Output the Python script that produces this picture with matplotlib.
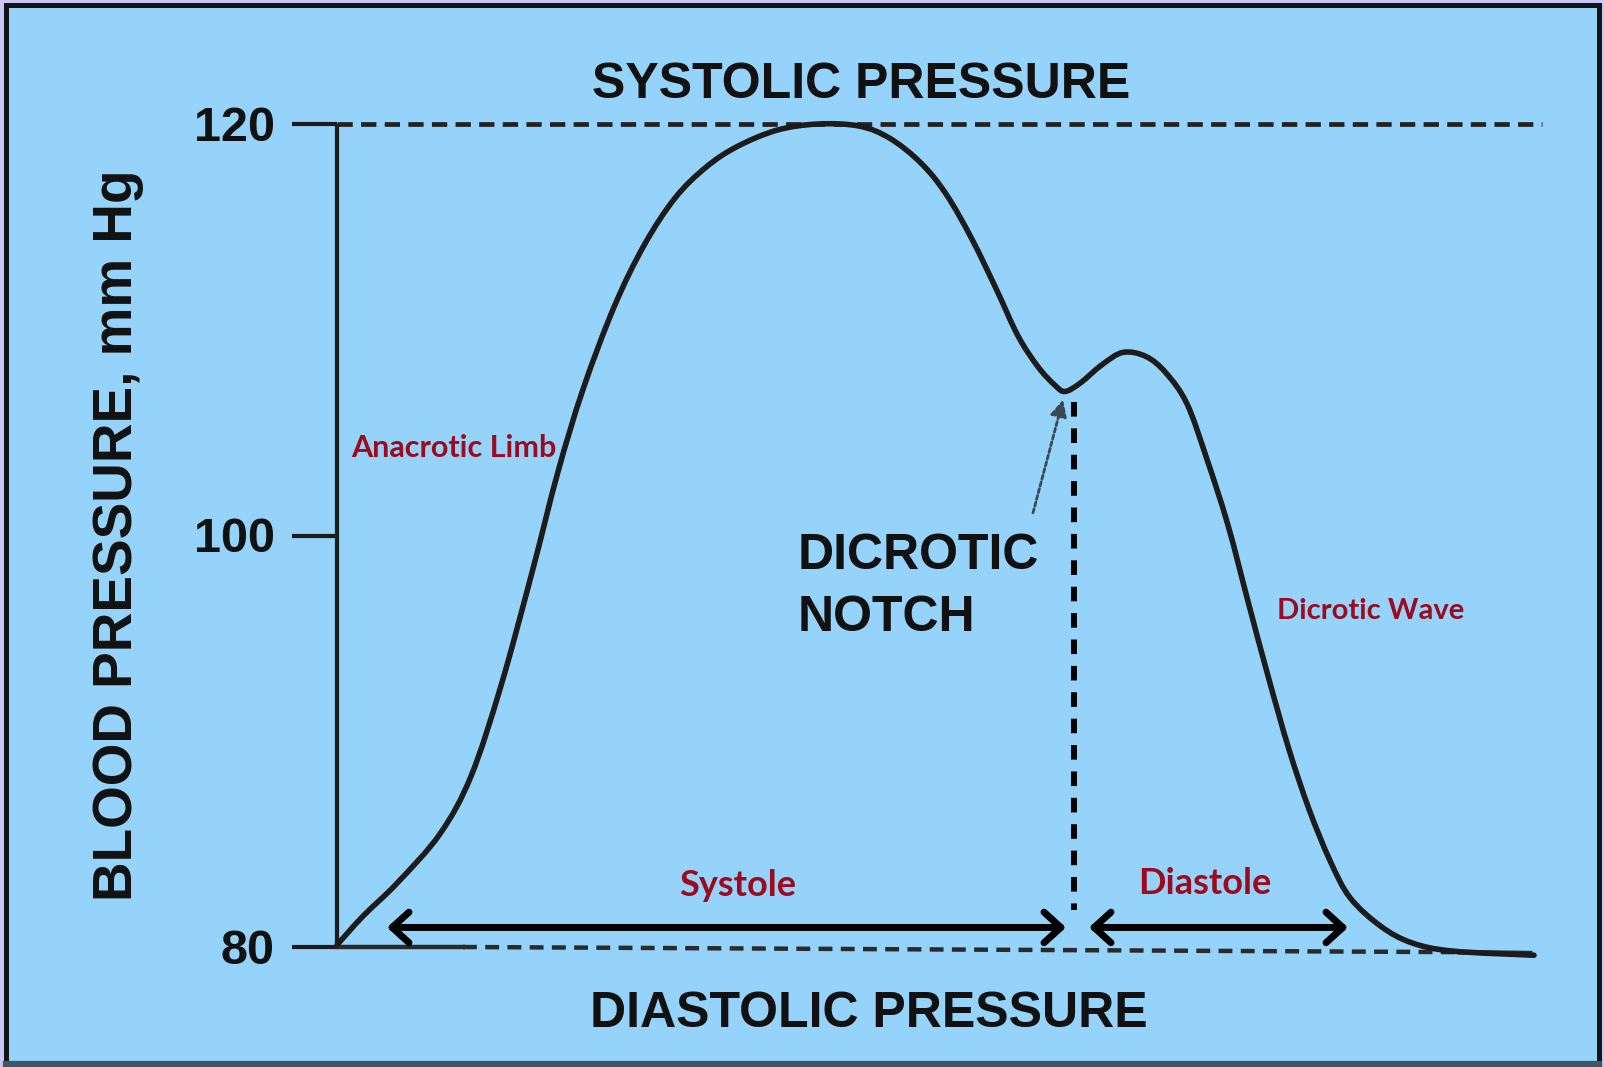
import numpy as np
import matplotlib
matplotlib.use('Agg')
import matplotlib.pyplot as plt
from matplotlib.patches import Rectangle, FancyArrowPatch, PathPatch
from matplotlib.path import Path

plt.rcParams['lines.scale_dashes'] = False

# ── Data ────────────────────────────────────────────────────────────────────
# time axis in arbitrary units, pressure in mm Hg
TIME = [0, 26, 60, 103, 134, 164, 195, 221, 246, 277, 307, 338, 369, 400, 440,
        481, 522, 553, 584, 609, 635, 660, 681, 701, 718, 728, 743, 765, 786,
        809, 829, 850, 870, 891, 911, 932, 952, 972, 993, 1013, 1044, 1075,
        1116, 1197]
PRESSURE = [80.1, 81.5, 83.1, 85.5, 88.3, 92.7, 98.2, 103.1, 107.1, 111.1,
            114.1, 116.4, 117.9, 118.9, 119.7, 120.0, 119.9, 119.3, 118.1,
            116.6, 114.4, 111.9, 109.7, 108.2, 107.3, 107.0, 107.4, 108.3,
            108.9, 108.7, 107.9, 106.4, 103.7, 100.5, 96.8, 93.0, 89.6, 86.7,
            84.2, 82.4, 81.0, 80.2, 79.8, 79.6]

Y_TICKS = [80, 100, 120]
SYSTOLIC = 120
DIASTOLIC = 80
DIASTOLIC_RIGHT = 79.7          # the scanned baseline drifts slightly
LINE_END = 1205

NOTCH_T = 737                   # dashed divider systole / diastole
NOTCH_P = (106.5, 81.8)
SYSTOLE_SPAN = (50, 729)
DIASTOLE_SPAN = (752, 1011)
ARROW_P = 80.95

# ── Layout: axes cover whole figure, 1 unit = 1 px horizontally ─────────────
W, H = 1604, 1067
X0 = 337                        # pixel column of t = 0
Y80, Y120 = 947, 124            # pixel rows of 80 and 120 mm Hg
PX_PER_MMHG = (Y80 - Y120) / 40.0

BG = '#95d3fa'
INK = '#1c1c1c'
RED = '#9b0a1e'


def smooth_path(xs, ys):
    """Catmull-Rom curve through the points, as cubic Bezier segments."""
    p = np.column_stack([xs, ys]).astype(float)
    ext = np.vstack([p[0], p, p[-1]])
    verts, codes = [p[0]], [Path.MOVETO]
    for i in range(1, len(ext) - 2):
        c1 = ext[i] + (ext[i + 1] - ext[i - 1]) / 6
        c2 = ext[i + 1] - (ext[i + 2] - ext[i]) / 6
        verts += [c1, c2, ext[i + 1]]
        codes += [Path.CURVE4] * 3
    return Path(verts, codes)


fig = plt.figure(figsize=(W / 100, H / 100), dpi=100, facecolor='#c8c8f6')

# frame
fig.add_artist(Rectangle((5.5 / W, 4 / H), 1593 / W, 1058 / H,
                         transform=fig.transFigure, facecolor=BG,
                         edgecolor='#141414', linewidth=3.6, zorder=-2))
fig.add_artist(plt.Line2D([5.5 / W, 1598.5 / W], [3.5 / H, 3.5 / H],
                          transform=fig.transFigure, color='#3d5668', lw=4.5,
                          zorder=-1))

ax = fig.add_axes([0, 0, 1, 1])
ax.set_axis_off()
ax.patch.set_visible(False)
ax.set_zorder(2)
ax.set_xlim(-X0, W - X0)
ax.set_ylim(DIASTOLIC - (H - Y80) / PX_PER_MMHG, DIASTOLIC + Y80 / PX_PER_MMHG)

# axis + ticks
ax.plot([0, 0], [DIASTOLIC, SYSTOLIC], color=INK, lw=3.0, solid_capstyle='butt')
for v in Y_TICKS:
    ax.plot([-45, 0], [v, v], color=INK, lw=3.0, solid_capstyle='butt')
    ax.text(-62, v - 0.2, str(v), ha='right', va='center', fontsize=35,
            fontweight='bold', family='Liberation Sans', color='#111')

# systolic / diastolic reference lines
ax.plot([0, LINE_END], [SYSTOLIC, SYSTOLIC], color='#222', lw=3.4,
        dashes=(11, 6))
ax.plot([0, 126], [DIASTOLIC, DIASTOLIC], color='#2a2a2a', lw=3.2)
ax.plot([126, 1123], [DIASTOLIC, DIASTOLIC_RIGHT + 0.05], color='#2a2a2a',
        lw=3.2, dashes=(10, 6))
ax.plot([1123, 1193], [DIASTOLIC_RIGHT + 0.05, DIASTOLIC_RIGHT],
        color='#2a2a2a', lw=3.4)

# pressure waveform
ax.add_patch(PathPatch(smooth_path(TIME, PRESSURE), facecolor='none',
                       edgecolor=INK, lw=4.0, capstyle='round',
                       joinstyle='round', zorder=4))

# dashed divider at the dicrotic notch
ax.plot([NOTCH_T, NOTCH_T], NOTCH_P, color='black', lw=4.3, dashes=(10.5, 8.5))

# systole / diastole arrows
for a, b in (SYSTOLE_SPAN, DIASTOLE_SPAN):
    ax.add_patch(FancyArrowPatch((a, ARROW_P), (b, ARROW_P),
                                 arrowstyle='<->,head_length=0.55,head_width=0.5',
                                 mutation_scale=22, lw=5, color='black',
                                 shrinkA=0, shrinkB=0, zorder=5))

# pointer to the notch
ax.annotate('', xy=(726, 106.6), xytext=(696, 101.1),
            arrowprops=dict(arrowstyle='-|>,head_length=0.5,head_width=0.25',
                            mutation_scale=20, lw=2, color='#3a4a55',
                            linestyle=(0, (3, 2)), shrinkA=0, shrinkB=0))

# labels
bold = dict(fontweight='bold', family='Liberation Sans', color='#111')
ax.text(524, 121.9, 'SYSTOLIC PRESSURE', ha='center', va='center',
        fontsize=36, **bold)
ax.text(532, 76.75, 'DIASTOLIC PRESSURE', ha='center', va='center',
        fontsize=36, **bold)
ax.text(-219, 100, 'BLOOD PRESSURE, mm Hg', rotation=90, ha='center',
        va='center', fontsize=39.5, **bold)
ax.text(461, 97.5, 'DICROTIC\nNOTCH', ha='left', va='center', fontsize=36,
        linespacing=1.45, **bold)

red = dict(family='Lato', fontweight='bold', color=RED)
ax.text(14, 104.25, 'Anacrotic Limb', ha='left', va='center', fontsize=22, **red)
ax.text(940, 96.33, 'Dicrotic Wave', ha='left', va='center', fontsize=21, **red)
ax.text(401, 83.0, 'Systole', ha='center', va='center', fontsize=26, **red)
ax.text(868, 83.1, 'Diastole', ha='center', va='center', fontsize=26, **red)

fig.savefig('out.png', dpi=100, facecolor=fig.get_facecolor())
